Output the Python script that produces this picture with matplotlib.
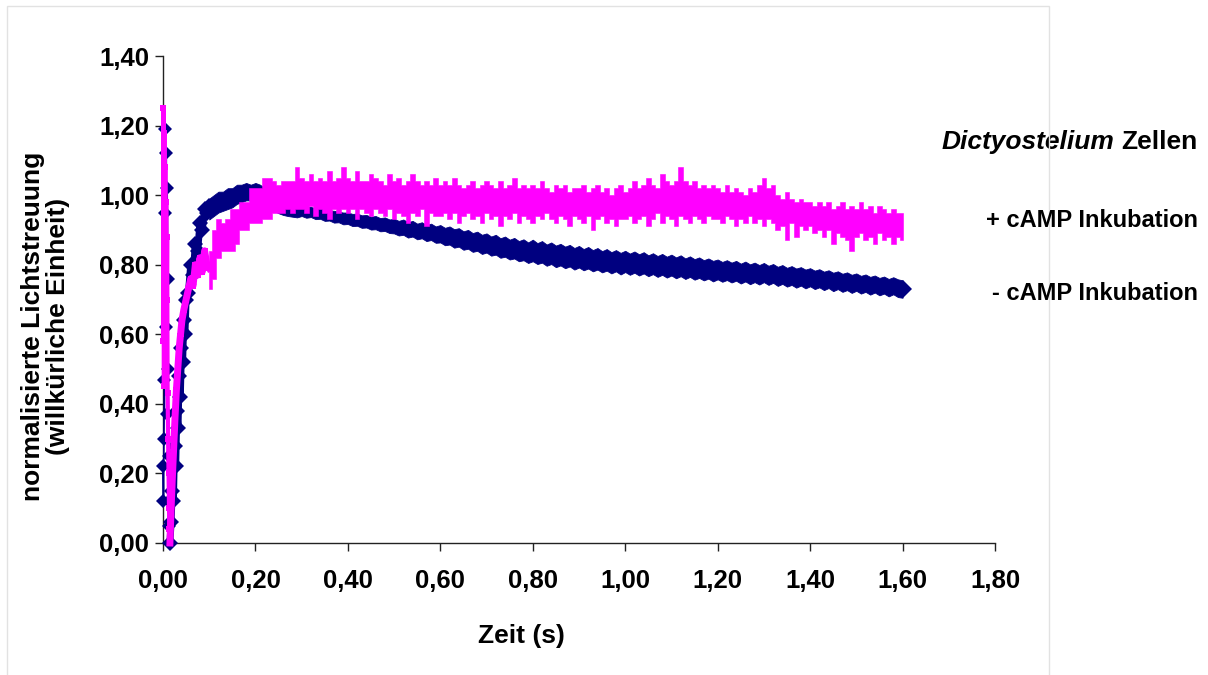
import numpy as np
import matplotlib.pyplot as plt
from matplotlib.patches import Rectangle
from matplotlib.ticker import FuncFormatter

plt.rcParams['font.family'] = ['Liberation Sans', 'DejaVu Sans']

# ---------------------------------------------------------------------
#  Data (time in s, normalised light scattering)
#  first 100 ms as single points, after that the noisy trace as the
#  upper / lower edge of the band seen every 10 ms
# ---------------------------------------------------------------------

# - cAMP Inkubation, mixing artefact (first 15 ms)
minus_spike_t = [0.000, 0.001, 0.002, 0.003, 0.004, 0.005, 0.006, 0.007, 0.008, 0.009,
                 0.010, 0.011, 0.012, 0.013, 0.014, 0.015]
minus_spike_v = [0.22, 0.12, 0.30, 0.47, 0.95, 1.19, 0.62, 1.12, 0.37, 1.02,
                 0.76, 0.50, 0.25, 0.12, 0.05, 0.00]

# - cAMP Inkubation, rise (15 ms ... 100 ms)
minus_rise_t = [0.015, 0.0175, 0.020, 0.0225, 0.025, 0.0275, 0.030, 0.0325, 0.035, 0.0375,
                0.040, 0.0425, 0.045, 0.0475, 0.050, 0.055, 0.060, 0.065, 0.070, 0.075,
                0.080, 0.085, 0.090, 0.095, 0.100]
minus_rise_v = [0.00, 0.06, 0.15, 0.12, 0.28, 0.22, 0.38, 0.33, 0.48, 0.42,
                0.56, 0.52, 0.64, 0.60, 0.70, 0.72, 0.80, 0.77, 0.86, 0.84,
                0.92, 0.90, 0.96, 0.95, 0.97]

# - cAMP Inkubation, 0.10 s ... 1.60 s every 10 ms: upper / lower edge
minus_hi = [
    0.990, 1.000, 1.010, 1.010, 1.020, 1.020, 1.030, 1.030, 1.035, 1.030,
    1.035, 1.030, 1.020, 1.010, 1.000, 0.990, 0.985, 0.980, 0.975, 0.972,
    0.970, 0.968, 0.966, 0.962, 0.962, 0.958, 0.956, 0.955, 0.952, 0.950,
    0.950, 0.946, 0.947, 0.942, 0.943, 0.938, 0.940, 0.934, 0.936, 0.930,
    0.932, 0.926, 0.930, 0.922, 0.926, 0.918, 0.922, 0.914, 0.918, 0.910,
    0.914, 0.906, 0.910, 0.902, 0.905, 0.896, 0.900, 0.891, 0.895, 0.886,
    0.890, 0.881, 0.886, 0.876, 0.881, 0.872, 0.877, 0.868, 0.873, 0.864,
    0.872, 0.862, 0.868, 0.858, 0.864, 0.855, 0.860, 0.852, 0.857, 0.848,
    0.854, 0.845, 0.851, 0.842, 0.848, 0.839, 0.845, 0.836, 0.842, 0.834,
    0.840, 0.832, 0.838, 0.830, 0.836, 0.827, 0.833, 0.825, 0.831, 0.823,
    0.829, 0.821, 0.827, 0.818, 0.824, 0.816, 0.821, 0.813, 0.818, 0.811,
    0.815, 0.808, 0.813, 0.806, 0.811, 0.803, 0.809, 0.801, 0.806, 0.799,
    0.805, 0.797, 0.802, 0.794, 0.799, 0.791, 0.796, 0.789, 0.793, 0.786,
    0.790, 0.783, 0.787, 0.780, 0.784, 0.777, 0.781, 0.774, 0.778, 0.771,
    0.775, 0.768, 0.772, 0.765, 0.769, 0.762, 0.766, 0.759, 0.764, 0.758,
    0.755]
minus_lo = [
    0.930, 0.940, 0.950, 0.955, 0.960, 0.965, 0.975, 0.980, 0.985, 0.985,
    0.990, 0.985, 0.975, 0.965, 0.955, 0.948, 0.943, 0.940, 0.938, 0.936,
    0.940, 0.935, 0.937, 0.931, 0.932, 0.926, 0.927, 0.921, 0.922, 0.916,
    0.917, 0.911, 0.912, 0.906, 0.907, 0.901, 0.902, 0.896, 0.897, 0.891,
    0.890, 0.884, 0.886, 0.878, 0.881, 0.873, 0.876, 0.868, 0.871, 0.863,
    0.864, 0.856, 0.858, 0.849, 0.852, 0.843, 0.846, 0.837, 0.840, 0.831,
    0.835, 0.826, 0.829, 0.820, 0.823, 0.815, 0.818, 0.810, 0.813, 0.805,
    0.810, 0.802, 0.806, 0.797, 0.802, 0.793, 0.798, 0.790, 0.795, 0.786,
    0.792, 0.784, 0.789, 0.781, 0.786, 0.778, 0.783, 0.775, 0.781, 0.772,
    0.779, 0.771, 0.777, 0.769, 0.775, 0.767, 0.773, 0.765, 0.771, 0.763,
    0.769, 0.761, 0.767, 0.759, 0.765, 0.757, 0.762, 0.755, 0.760, 0.752,
    0.758, 0.751, 0.756, 0.749, 0.754, 0.746, 0.752, 0.744, 0.750, 0.743,
    0.750, 0.742, 0.748, 0.739, 0.745, 0.737, 0.742, 0.734, 0.740, 0.732,
    0.738, 0.730, 0.735, 0.727, 0.733, 0.724, 0.730, 0.722, 0.727, 0.719,
    0.725, 0.717, 0.722, 0.714, 0.720, 0.712, 0.717, 0.709, 0.715, 0.707,
    0.705]

# + cAMP Inkubation, mixing artefact (first 15 ms)
plus_spike_t = [0.000, 0.001, 0.002, 0.003, 0.004, 0.005, 0.006, 0.007, 0.008, 0.009,
                0.010, 0.011, 0.012, 0.013, 0.014, 0.015]
plus_spike_v = [0.58, 1.25, 0.45, 1.18, 0.62, 1.08, 0.48, 0.98, 0.70, 0.88,
                0.43, 0.30, 0.20, 0.10, 0.04, 0.00]

# + cAMP Inkubation, rise (15 ms ... 100 ms)
plus_rise_t = [0.015, 0.017, 0.020, 0.023, 0.026, 0.029, 0.032, 0.035, 0.038, 0.041,
               0.045, 0.050, 0.055, 0.060, 0.065, 0.070, 0.075, 0.080, 0.085, 0.090,
               0.095, 0.100]
plus_rise_v = [0.00, 0.08, 0.18, 0.27, 0.36, 0.44, 0.50, 0.56, 0.60, 0.64,
               0.67, 0.70, 0.73, 0.76, 0.74, 0.80, 0.77, 0.82, 0.78, 0.84,
               0.80, 0.79]

# + cAMP Inkubation, 0.10 s ... 1.60 s every 10 ms: upper / lower edge
plus_hi = [
    0.84, 0.90, 0.93, 0.92, 0.93, 0.96, 0.96, 0.98, 0.98, 1.02,
    1.02, 1.02, 1.05, 1.05, 1.04, 1.03, 1.04, 1.04, 1.04, 1.08,
    1.05, 1.04, 1.06, 1.04, 1.05, 1.04, 1.07, 1.04, 1.05, 1.08,
    1.05, 1.04, 1.07, 1.04, 1.04, 1.06, 1.05, 1.04, 1.03, 1.06,
    1.04, 1.05, 1.03, 1.04, 1.06, 1.04, 1.03, 1.04, 1.03, 1.05,
    1.03, 1.04, 1.03, 1.05, 1.03, 1.02, 1.03, 1.04, 1.02, 1.03,
    1.04, 1.03, 1.02, 1.04, 1.02, 1.03, 1.05, 1.02, 1.03, 1.02,
    1.03, 1.02, 1.04, 1.02, 1.01, 1.03, 1.02, 1.03, 1.01, 1.02,
    1.02, 1.03, 1.01, 1.02, 1.03, 1.01, 1.02, 1.00, 1.02, 1.03,
    1.01, 1.02, 1.04, 1.02, 1.03, 1.05, 1.03, 1.02, 1.06, 1.04,
    1.03, 1.04, 1.08, 1.04, 1.03, 1.04, 1.02, 1.03, 1.02, 1.03,
    1.02, 1.01, 1.03, 1.01, 1.02, 1.01, 1.00, 1.02, 1.01, 1.03,
    1.05, 1.02, 1.03, 1.00, 0.99, 1.01, 0.99, 0.98, 0.99, 0.98,
    0.98, 0.97, 0.98, 0.97, 0.98, 0.96, 0.97, 0.98, 0.96, 0.97,
    0.96, 0.98, 0.96, 0.97, 0.95, 0.97, 0.96, 0.95, 0.96, 0.95,
    0.95]
plus_lo = [
    0.73, 0.76, 0.82, 0.84, 0.84, 0.84, 0.86, 0.90, 0.90, 0.92,
    0.92, 0.92, 0.93, 0.93, 0.95, 0.95, 0.95, 0.96, 0.95, 0.96,
    0.96, 0.95, 0.97, 0.94, 0.96, 0.95, 0.93, 0.96, 0.95, 0.96,
    0.95, 0.96, 0.93, 0.96, 0.95, 0.94, 0.96, 0.95, 0.94, 0.96,
    0.93, 0.95, 0.94, 0.92, 0.95, 0.94, 0.96, 0.91, 0.95, 0.94,
    0.94, 0.95, 0.93, 0.95, 0.92, 0.94, 0.95, 0.93, 0.94, 0.92,
    0.95, 0.93, 0.94, 0.91, 0.94, 0.93, 0.95, 0.92, 0.94, 0.93,
    0.92, 0.94, 0.93, 0.95, 0.93, 0.92, 0.94, 0.93, 0.91, 0.94,
    0.93, 0.92, 0.94, 0.90, 0.93, 0.94, 0.92, 0.93, 0.91, 0.93,
    0.93, 0.94, 0.92, 0.93, 0.94, 0.91, 0.93, 0.95, 0.92, 0.94,
    0.93, 0.91, 0.94, 0.93, 0.92, 0.94, 0.93, 0.92, 0.94, 0.93,
    0.93, 0.92, 0.94, 0.93, 0.91, 0.93, 0.92, 0.94, 0.92, 0.93,
    0.91, 0.93, 0.92, 0.90, 0.91, 0.87, 0.92, 0.88, 0.91, 0.90,
    0.91, 0.89, 0.90, 0.88, 0.90, 0.86, 0.89, 0.88, 0.87, 0.84,
    0.88, 0.89, 0.87, 0.88, 0.86, 0.89, 0.87, 0.88, 0.86, 0.88,
    0.87]

main_t0 = 0.10
main_dt = 0.01

x_ticks = [0.0, 0.2, 0.4, 0.6, 0.8, 1.0, 1.2, 1.4, 1.6, 1.8]
y_ticks = [0.0, 0.2, 0.4, 0.6, 0.8, 1.0, 1.2, 1.4]

NAVY = '#000080'
PINK = '#FF00FF'


def comma_fmt(v, pos):
    return f"{v:.2f}".replace('.', ',')


main_t = np.round(main_t0 + main_dt * np.arange(len(minus_hi)), 3)

fig = plt.figure(figsize=(12.08, 6.75), dpi=100)
ax = fig.add_axes([163 / 1208, 1 - 543 / 675, 832 / 1208, 487 / 675])

# - cAMP: diamonds on a thin line for the spike, thick band afterwards
ax.plot(minus_spike_t, minus_spike_v, color=NAVY, lw=1.2, marker='D', markersize=7,
        markeredgewidth=0, clip_on=False, zorder=3)
ax.plot(minus_rise_t, minus_rise_v, color=NAVY, lw=5, marker='D', markersize=8,
        markeredgewidth=0, clip_on=False, zorder=3)
ax.fill_between(main_t, minus_lo, minus_hi, color=NAVY, lw=0.6, edgecolor=NAVY,
                zorder=3)
ax.plot(main_t[-1], (minus_hi[-1] + minus_lo[-1]) / 2, color=NAVY, marker='D',
        markersize=9, markeredgewidth=0, zorder=3)

# + cAMP: squares on a line for the spike, thick band afterwards
ax.plot(plus_spike_t, plus_spike_v, color=PINK, lw=3.0, marker='s', markersize=4.5,
        markeredgewidth=0, clip_on=False, zorder=4)
ax.plot(plus_rise_t, plus_rise_v, color=PINK, lw=5, marker='s', markersize=5,
        markeredgewidth=0, clip_on=False, zorder=4)
ax.fill_between(main_t, plus_lo, plus_hi, step='mid', color=PINK, lw=0.4,
                edgecolor=PINK, zorder=4)

ax.set_xlim(0, 1.8)
ax.set_ylim(0, 1.4)
ax.set_xticks(x_ticks)
ax.set_yticks(y_ticks)
ax.xaxis.set_major_formatter(FuncFormatter(comma_fmt))
ax.yaxis.set_major_formatter(FuncFormatter(comma_fmt))
for s in ['top', 'right']:
    ax.spines[s].set_visible(False)
for s in ['left', 'bottom']:
    ax.spines[s].set_color('#222222')
    ax.spines[s].set_linewidth(1.0)
ax.tick_params(direction='out', length=5.5, width=1.0, color='#222222',
               labelsize=18.5)
ax.tick_params(axis='y', pad=4.5)
ax.tick_params(axis='x', pad=13)
for lab in ax.get_xticklabels() + ax.get_yticklabels():
    lab.set_fontweight('bold')

ax.set_xlabel('Zeit (s)', fontsize=19, fontweight='bold', va='baseline')
ax.xaxis.set_label_coords((521.5 - 163) / 832, (543 - 643.3) / 487)
ax.set_ylabel('normalisierte Lichtstreuung\n(willkürliche Einheit)', fontsize=19,
              fontweight='bold', ha='center', va='center', linespacing=1.05)
ax.yaxis.set_label_coords((45.5 - 163) / 832, (543 - 326) / 487)

# series labels on the right
zellen = fig.text(1198 / 1208, 1 - 149.3 / 675, 'Zellen', fontsize=19,
                  fontweight='bold', ha='right', va='baseline')
ax.annotate('Dictyostelium', xy=(0, 0), xycoords=zellen, xytext=(-5, 0),
            textcoords='offset points', fontsize=19, fontweight='bold',
            fontstyle='italic', ha='right', va='bottom')
fig.text(1198 / 1208, 1 - 226.7 / 675, '+ cAMP Inkubation', fontsize=17,
         fontweight='bold', ha='right', va='baseline')
fig.text(1198 / 1208, 1 - 300 / 675, '- cAMP Inkubation', fontsize=17,
         fontweight='bold', ha='right', va='baseline')

# faint chart-area frame
fig.patches.append(Rectangle((7 / 1208, -0.02), (1049 - 7) / 1208, 1.02 - 6 / 675,
                             transform=fig.transFigure, fill=False,
                             edgecolor='#e2e2e2', lw=1.0))

fig.savefig('out.png', dpi=100)
